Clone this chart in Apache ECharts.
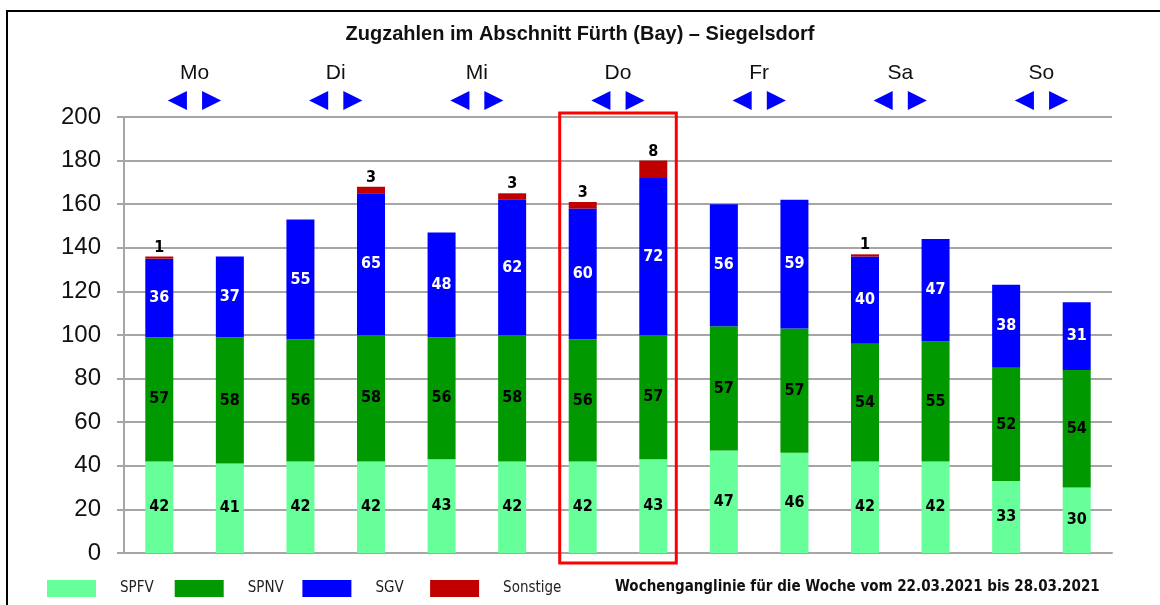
<!DOCTYPE html>
<html>
<head>
<meta charset="utf-8">
<script src="https://cdn.jsdelivr.net/npm/echarts@6/dist/echarts.min.js"></script>
<style>
html, body { margin: 0; padding: 0; background: #fff; }
#frame {
  position: absolute; left: 6px; top: 10px; width: 1160px; height: 600px;
  border-left: 2px solid #000; border-top: 2px solid #000;
}
#chart { position: absolute; left: 0; top: 0; width: 1160px; height: 605px; }
</style>
</head>
<body>
<div id="frame"></div>
<div id="chart"></div>
<script>
// zwei Balken je Tag
var categories = ['Mo 1', 'Mo 2', 'Di 1', 'Di 2', 'Mi 1', 'Mi 2', 'Do 1', 'Do 2', 'Fr 1', 'Fr 2', 'Sa 1', 'Sa 2', 'So 1', 'So 2']
var days = ['Mo', 'Di', 'Mi', 'Do', 'Fr', 'Sa', 'So']
var spfv = [42, 41, 42, 42, 43, 42, 42, 43, 47, 46, 42, 42, 33, 30]
var spnv = [57, 58, 56, 58, 56, 58, 56, 57, 57, 57, 54, 55, 52, 54]
var sgv = [36, 37, 55, 65, 48, 62, 60, 72, 56, 59, 40, 47, 38, 31]
var sonstige = [1, 0, 0, 3, 0, 3, 3, 8, 0, 0, 1, 0, 0, 0]
var seriesNames = ['SPFV', 'SPNV', 'SGV', 'Sonstige']
var yMin = 0
var yMax = 200
var yStep = 20
var markedDay = ['Do 1', 'Do 2']
var titleText = 'Zugzahlen im Abschnitt Fürth (Bay) – Siegelsdorf'
var footText = 'Wochenganglinie für die Woche vom 22.03.2021 bis 28.03.2021'

var labelFont = 'DejaVu Sans Condensed, DejaVu Sans, sans-serif'

function hideZero (p) {
  return p.value ? p.value : ''
}

function barSeries (name, data, color, labelColor) {
  return {
    name: name,
    type: 'bar',
    stack: 'zug',
    barWidth: 28,
    data: data,
    itemStyle: { color: color },
    label: {
      show: true,
      position: 'inside',
      formatter: hideZero,
      color: labelColor,
      fontFamily: labelFont,
      fontWeight: 'bold',
      fontSize: 16
    }
  }
}

// je Legendeneintrag eine eigene Legende, feste Spalten wie im Original
function legendItem (name, i) {
  return {
    left: 47 + i * 127.7,
    top: 580,
    padding: 0,
    itemWidth: 49,
    itemHeight: 17,
    icon: 'rect',
    data: [name],
    textStyle: {
      fontFamily: labelFont,
      fontSize: 15,
      color: '#222',
      padding: [0, 0, 0, 19]
    }
  }
}

var chart = echarts.init(document.getElementById('chart'))

var sonstSeries = barSeries('Sonstige', sonstige, '#c00000', '#000')
sonstSeries.label.position = 'top'
sonstSeries.label.distance = 1

var option = {
  animation: false,
  title: {
    text: titleText,
    left: 'center',
    top: 19,
    textStyle: { fontFamily: 'Liberation Sans, sans-serif', fontWeight: 'bold', fontSize: 20, color: '#111' }
  },
  grid: { left: 124, right: 48, top: 117, bottom: 52 },
  legend: seriesNames.map(legendItem),
  xAxis: [
    {
      type: 'category',
      data: categories,
      axisLine: { lineStyle: { color: '#a6a6a6', width: 2 } },
      axisTick: { show: false },
      axisLabel: { show: false }
    },
    {
      type: 'category',
      data: days,
      position: 'top',
      axisLine: { show: false },
      axisTick: { show: false },
      axisLabel: {
        margin: 5,
        formatter: function (v) { return '{d|' + v + '}\n{a|◀}{g|}{a|▶}' },
        rich: {
          d: { fontFamily: 'Liberation Sans, sans-serif', fontSize: 21, color: '#111', lineHeight: 30 },
          a: { fontFamily: 'DejaVu Sans', fontSize: 25, color: '#0000ff', lineHeight: 24 },
          g: { width: 15 }
        }
      }
    }
  ],
  yAxis: {
    type: 'value',
    min: yMin,
    max: yMax,
    interval: yStep,
    axisLine: { show: true, lineStyle: { color: '#a6a6a6', width: 2 } },
    axisTick: { show: true, length: 7, lineStyle: { color: '#a6a6a6', width: 2 } },
    splitLine: { lineStyle: { color: '#a6a6a6', width: 2 } },
    axisLabel: { fontFamily: 'Liberation Sans, sans-serif', fontSize: 24, color: '#111', margin: 23 }
  },
  series: [
    barSeries(seriesNames[0], spfv, '#66ff99', '#000'),
    barSeries(seriesNames[1], spnv, '#009900', '#000'),
    barSeries(seriesNames[2], sgv, '#0000ff', '#fff'),
    sonstSeries
  ],
  graphic: [
    {
      type: 'text',
      left: 615,
      top: 580,
      style: { text: footText, fontFamily: labelFont, fontWeight: 'bold', fontSize: 15, fill: '#111' }
    }
  ]
}

chart.setOption(option)

// roter Rahmen um den markierten Tag
var x0 = chart.convertToPixel({ xAxisIndex: 0 }, markedDay[0])
var x1 = chart.convertToPixel({ xAxisIndex: 0 }, markedDay[1])
var yTop = chart.convertToPixel({ yAxisIndex: 0 }, yMax)
var yBot = chart.convertToPixel({ yAxisIndex: 0 }, yMin)
chart.setOption({
  graphic: [
    option.graphic[0],
    {
      type: 'rect',
      shape: { x: x0 - 23, y: yTop - 4, width: x1 - x0 + 46, height: yBot - yTop + 14 },
      style: { fill: 'none', stroke: '#ff0000', lineWidth: 3 },
      z: 10
    }
  ]
})
</script>
</body>
</html>
